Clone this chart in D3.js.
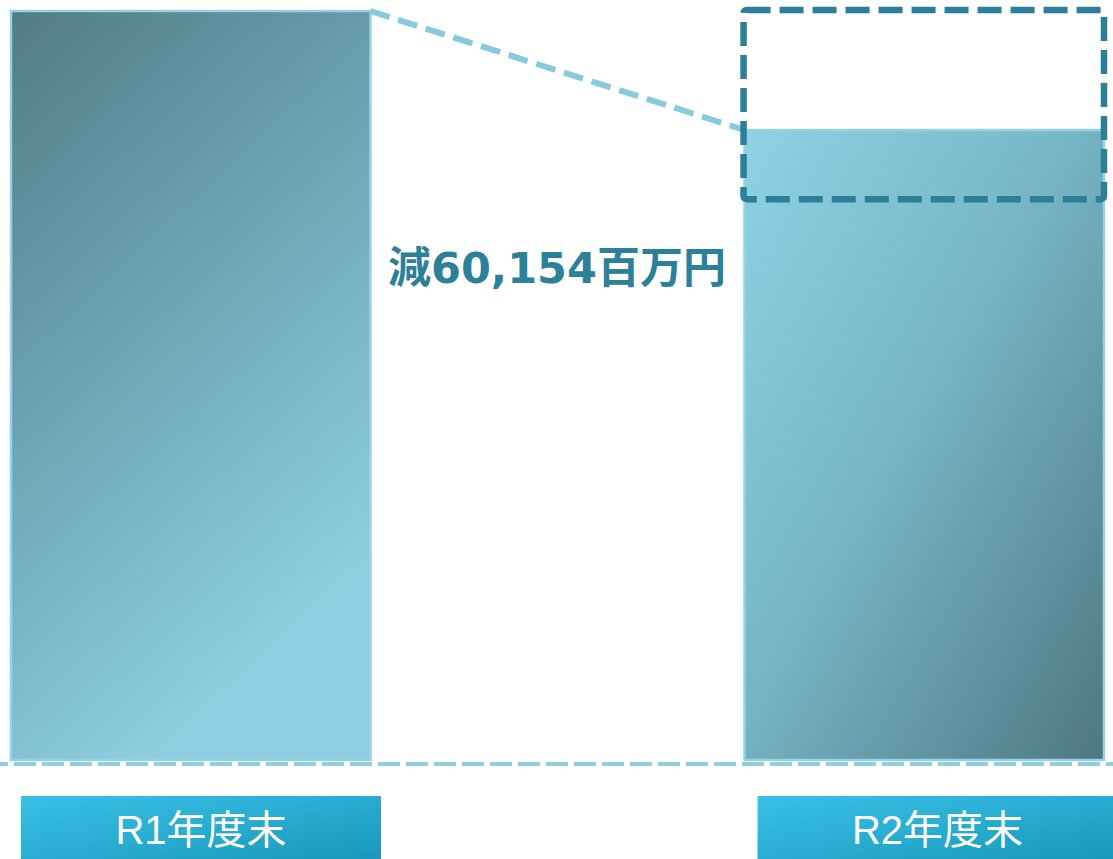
<!DOCTYPE html>
<html>
<head>
<meta charset="utf-8">
<script src="https://cdn.jsdelivr.net/npm/d3@7"></script>
<style>
  html, body { margin: 0; padding: 0; background: #fff; overflow: hidden; }
</style>
</head>
<body>
<div id="chart"></div>
<script>
// data (百万円), bar heights are estimates
const categories = ['R1年度末', 'R2年度末']
const values = [378600, 318446]
const diffLabel = '減60,154百万円'
const highlightRange = [378600, 283000] // dashed box on the R2 bar

const W = 1113, H = 859

const svg = d3.select('#chart').append('svg')
  .attr('width', W)
  .attr('height', H)

const defs = svg.append('defs')

function grad(id, x2, y2, stops) {
  let g = defs.append('linearGradient').attr('id', id)
    .attr('x1', 0).attr('y1', 0).attr('x2', x2).attr('y2', y2)
  stops.forEach(s => g.append('stop').attr('offset', s[0]).attr('stop-color', s[1]))
}
grad('g0', 0.45, 1, [[0, '#527b87'], [0.5, '#6ea6b5'], [1, '#8ed0e1']])
grad('g1', 1, 1, [[0, '#8ed2e3'], [0.45, '#78b6c6'], [1, '#4e7783']])
grad('gl', 1, 1, [[0, '#3ac1e6'], [1, '#1797bb']])

const x = d3.scaleBand()
  .domain(categories)
  .range([11, 1104])
  .paddingInner(0.51)
  .paddingOuter(0)

const y = d3.scaleLinear()
  .domain([0, values[0]])
  .range([760, 11])

// bars
svg.append('g').selectAll('rect')
  .data(categories)
  .enter().append('rect')
  .attr('x', d => x(d))
  .attr('y', (d, i) => y(values[i]))
  .attr('width', x.bandwidth())
  .attr('height', (d, i) => y(0) - y(values[i]))
  .attr('fill', (d, i) => 'url(#g' + i + ')')
  .attr('stroke', '#93d3e3')
  .attr('stroke-width', 2.5)

// baseline
svg.append('line')
  .attr('x1', 0).attr('x2', W)
  .attr('y1', y(0) + 4).attr('y2', y(0) + 4)
  .attr('stroke', '#90cfdf')
  .attr('stroke-width', 4)
  .attr('stroke-dasharray', '22 6')
  .attr('stroke-dashoffset', 14)

// connector from R1 top to R2 top
svg.append('line')
  .attr('x1', x(categories[0]) + x.bandwidth())
  .attr('y1', y(values[0]))
  .attr('x2', x(categories[1]))
  .attr('y2', y(values[1]))
  .attr('stroke', '#86cadc')
  .attr('stroke-width', 6)
  .attr('stroke-dasharray', '20 9')

// dashed highlight box
svg.append('rect')
  .attr('x', x(categories[1]) - 1)
  .attr('y', y(highlightRange[0]) - 1)
  .attr('width', x.bandwidth() + 1)
  .attr('height', y(highlightRange[1]) - y(highlightRange[0]))
  .attr('fill', 'none')
  .attr('stroke', '#2b7f98')
  .attr('stroke-width', 6.5)
  .attr('stroke-dasharray', '24 9')
  .attr('stroke-linejoin', 'round')
  .attr('rx', 3)

// difference label
svg.append('text')
  .attr('x', 557)
  .attr('y', 283)
  .attr('text-anchor', 'middle')
  .attr('font-family', '"DejaVu Sans", "Noto Sans CJK JP", sans-serif')
  .attr('font-weight', 'bold')
  .attr('font-size', 43)
  .attr('fill', '#2c8098')
  .text(diffLabel)

// category label boxes
let lab = svg.append('g').selectAll('g')
  .data(categories)
  .enter().append('g')
  .attr('transform', (d, i) => 'translate(' + (x(d) + 10 + i * 3) + ',796)')

lab.append('rect')
  .attr('width', 360)
  .attr('height', 66)
  .attr('fill', 'url(#gl)')

lab.append('text')
  .attr('x', 180)
  .attr('y', 48)
  .attr('text-anchor', 'middle')
  .attr('font-family', '"Liberation Sans", "Noto Sans CJK JP", sans-serif')
  .attr('font-size', 40)
  .attr('fill', '#fff')
  .text(d => d)
</script>
</body>
</html>
